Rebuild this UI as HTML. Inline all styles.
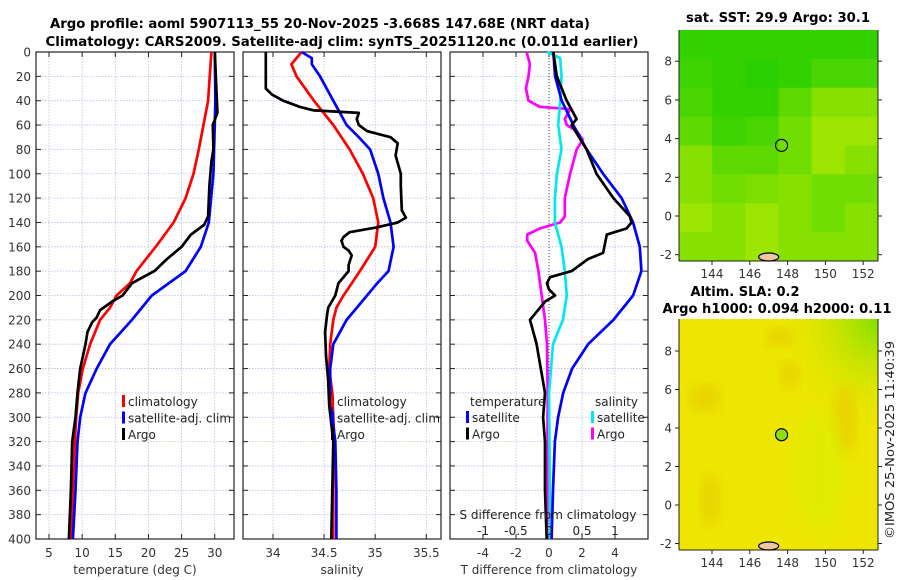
<!DOCTYPE html>
<html><head><meta charset="utf-8"><style>
html,body{margin:0;padding:0;background:#fff;}
svg{display:block;font-family:"DejaVu Sans","Liberation Sans",sans-serif;}
</style></head><body>
<svg id="c" width="900" height="580" viewBox="0 0 900 580" xmlns="http://www.w3.org/2000/svg">
<rect width="900" height="580" fill="#fff"/>
<text x="320" y="28" text-anchor="middle" font-size="13" font-weight="bold" fill="#000" textLength="540" lengthAdjust="spacingAndGlyphs">Argo profile: aoml 5907113_55 20-Nov-2025 -3.668S 147.68E (NRT data)</text>
<text x="342" y="46" text-anchor="middle" font-size="13" font-weight="bold" fill="#000" textLength="593" lengthAdjust="spacingAndGlyphs">Climatology: CARS2009. Satellite-adj clim: synTS_20251120.nc (0.011d earlier)</text>
<text x="778" y="22" text-anchor="middle" font-size="13" font-weight="bold" textLength="184" lengthAdjust="spacingAndGlyphs">sat. SST: 29.9 Argo: 30.1</text>
<text x="745" y="296" text-anchor="middle" font-size="13" font-weight="bold" textLength="109" lengthAdjust="spacingAndGlyphs">Altim. SLA: 0.2</text>
<text x="777" y="313" text-anchor="middle" font-size="13" font-weight="bold" textLength="229" lengthAdjust="spacingAndGlyphs">Argo h1000: 0.094 h2000: 0.11</text>
<text transform="translate(894,440) rotate(-90)" text-anchor="middle" font-size="12" fill="#222" textLength="198" lengthAdjust="spacingAndGlyphs">©IMOS 25-Nov-2025 11:40:39</text>
<g id="g"></g>
</svg>
<script>
// ---- data ----
const depthTicks=[0,20,40,60,80,100,120,140,160,180,200,220,240,260,280,300,320,340,360,380,400];
const tempTicks=[5,10,15,20,25,30];
const salTicks=[34,34.5,35,35.5];
const salTickLabels=["34","34.5","35","35.5"];
const tDiffTicks=[-4,-2,0,2,4];
const sDiffTicks=[-1,-0.5,0,0.5,1];
const sDiffTickLabels=["-1","-0.5","0","0.5","1"];
const climDepth=[0,40,80,100,120,140,160,180,190,200,210,220,240,260,280,300,320,360,400];
const climTemp=[29.5,29.0,27.6,26.8,25.6,23.8,21.1,18.2,17.2,15.2,14.2,12.7,11.2,10.1,9.4,9.1,8.9,8.6,8.3];
const satDepth=[0,40,100,140,160,180,200,220,240,260,280,300,320,360,400];
const satTemp=[30,30.1,29.8,29.1,27.9,25.6,20.5,17.5,14.2,12.2,10.5,9.7,9.3,9.0,8.6];
const argoTDepth=[0,50,60,80,90,110,135,142,150,160,170,180,186,190,200,205,212,218,222,230,240,260,280,300,320,360,400];
const argoTemp=[30,30.4,29.7,29.8,29.5,29.2,29,28.4,26.4,25,22.8,20.9,18.8,17.5,16.1,14.5,12.7,12.2,11.5,10.8,10.5,9.7,9.3,9.0,8.5,8.3,8.0];
const climSDepth=[0,10,20,40,60,80,100,120,140,160,180,200,210,220,240,260,280,300,320,360,400];
const climSal=[34.28,34.18,34.23,34.40,34.59,34.75,34.88,34.98,35.03,35.0,34.85,34.69,34.62,34.59,34.56,34.55,34.58,34.59,34.6,34.59,34.59];
const satSDepth=[0,5,10,20,40,60,70,80,100,120,140,160,180,190,200,210,220,240,260,280,300,320,360,400];
const satSal=[34.28,34.38,34.38,34.46,34.59,34.72,34.84,34.95,35.03,35.08,35.15,35.18,35.13,35.02,34.92,34.82,34.72,34.59,34.56,34.56,34.58,34.61,34.62,34.62];
const argoSDepth=[0,30,35,40,45,48,50,55,60,65,70,75,85,100,110,130,136,140,144,148,152,155,160,163,167,175,180,190,200,210,215,230,250,270,290,320,360,400];
const argoSal=[33.93,33.93,33.99,34.1,34.26,34.4,34.84,34.82,34.84,34.92,35.15,35.22,35.2,35.25,35.25,35.26,35.3,35.22,35.02,34.75,34.69,34.67,34.69,34.74,34.77,34.74,34.74,34.64,34.61,34.54,34.53,34.51,34.52,34.54,34.55,34.59,34.58,34.57];
const satTdDepth=[0,20,40,60,80,100,120,140,160,180,200,220,240,260,280,300,320,360,400];
const satTdiff=[0.26,0.37,0.77,1.47,2.28,3.28,4.4,5.1,5.5,5.6,5.1,3.9,2.37,1.4,0.86,0.55,0.36,0.24,0.16];
const argoTdDepth=[0,20,40,50,55,60,80,100,120,135,140,145,150,165,170,180,185,190,195,200,205,215,220,235,240,260,280,300,320,360,400];
const argoTdiff=[0.26,0.47,1.07,1.47,1.67,1.37,2.28,2.88,3.9,4.9,5.0,4.7,3.5,3.28,2.37,1.37,0.06,-0.13,0,0.37,-0.24,-0.85,-1.15,-0.85,-0.75,-0.5,-0.24,-0.36,-0.24,-0.24,-0.14];
const argoSdDepth=[0,10,20,30,40,45,47,55,60,65,72,80,100,120,135,140,145,150,155,165,180,200,220,240,280,400];
const argoSdiff=[-0.34,-0.29,-0.31,-0.35,-0.31,-0.14,0.32,0.24,0.27,0.42,0.51,0.42,0.32,0.24,0.24,0.17,-0.14,-0.33,-0.33,-0.21,-0.16,-0.11,-0.06,-0.03,-0.02,-0.03];
const satSdDepth=[0,5,20,40,60,80,100,120,140,160,180,200,220,240,280,400];
const satSdiff=[-0.03,0.17,0.19,0.17,0.14,0.19,0.12,0.09,0.09,0.19,0.24,0.27,0.21,0.06,0.0,0.02];
const lonTicks=[144,146,148,150,152];
const latTicks=[-2,0,2,4,6,8];
const sstGrid=[[0.1,0.1,0.1,0.1,0.1,0.1],[0.15,0.1,0.05,0.1,0.2,0.2],[0.2,0.1,0.1,0.3,0.5,0.5],[0.3,0.15,0.2,0.4,0.6,0.6],[0.5,0.3,0.3,0.4,0.6,0.5],[0.5,0.4,0.45,0.5,0.4,0.4],[0.6,0.5,0.6,0.5,0.4,0.5],[0.5,0.5,0.6,0.5,0.5,0.5]];
const argoLon=147.68, argoLat=3.65;

// ---- scales ----
const Y=d=>52+d*1.2175;
const XT=t=>49+(t-5)*6.63;
const XS=s=>273+(s-34)*102.2;
const XTD=v=>549+v*16.5;
const XSD=v=>549+v*66;
const NS="http://www.w3.org/2000/svg";
const G=document.getElementById('g');
function el(tag,attrs,parent,txt){const e=document.createElementNS(NS,tag);for(const k in attrs)e.setAttribute(k,attrs[k]);if(txt!==undefined)e.textContent=txt;(parent||G).appendChild(e);return e;}

function panel(name,x0,x1,xt,xs,xlabels,xtitle){
  const g=el('g',{});
  
  
  xt.forEach((v,i)=>{const x=xs(v);
    const l=el('line',{x1:x,x2:x,y1:52,y2:539,stroke:'#b8bedf','stroke-width':0.8,'stroke-dasharray':'1.5,1.5'},g);
    
    
    el('line',{x1:x,x2:x,y1:52,y2:57,stroke:'#222'},g);el('line',{x1:x,x2:x,y1:539,y2:534,stroke:'#222'},g);
    if(xlabels){const t=el('text',{x:x,y:557,'text-anchor':'middle','font-size':12,fill:'#333'},g,xlabels[i]);
    
    }
  });
  depthTicks.forEach(d=>{const y=Y(d);
    if(d>0&&d<400){const l=el('line',{x1:x0,x2:x1,y1:y,y2:y,stroke:'#b8bedf','stroke-width':0.8,'stroke-dasharray':'1.5,1.5'},g);
    
    }
    el('line',{x1:x0,x2:x0+5,y1:y,y2:y,stroke:'#222'},g);el('line',{x1:x1,x2:x1-5,y1:y,y2:y,stroke:'#222'},g);
  });
  const b=el('rect',{x:x0,y:52,width:x1-x0,height:487,fill:'none',stroke:'#222','stroke-width':1.2},g);
  
  
  const tt=el('text',{x:(x0+x1)/2,y:574,'text-anchor':'middle','font-size':12,fill:'#333'},g,xtitle);
  
  
  return g;
}
function series(name,ds,vs,xs,color,g){
  const pts=ds.map((d,i)=>xs(vs[i]).toFixed(1)+','+Y(d).toFixed(1)).join(' ');
  const p=el('polyline',{points:pts,fill:'none',stroke:color,'stroke-width':2.7,'stroke-linejoin':'round'},g);
  
  
}
function legend(items,x,y,g){
  items.forEach((it,i)=>{const yy=y+i*16.5;
    el('rect',{x:x,y:yy-11,width:3,height:12,fill:it[1]},g);
    const t=el('text',{x:x+6,y:yy,'font-size':12,fill:'#222'},g,it[0]);
    
    
  });
}
// panel 1
const p1=panel('temperature-panel',36,234,tempTicks,XT,tempTicks.map(String),'temperature (deg C)');
depthTicks.forEach(d=>{const t=el('text',{x:31,y:Y(d)+4.5,'text-anchor':'end','font-size':12,fill:'#333'},G,String(d));

});
series('climatology-temp-line',climDepth,climTemp,XT,'#ff0000',p1);
series('satellite-temp-line',satDepth,satTemp,XT,'#0000ff',p1);
series('argo-temp-line',argoTDepth,argoTemp,XT,'#000',p1);
legend([['climatology','#ff0000'],['satellite-adj. clim','#0000ff'],['Argo','#000']],122,406,p1);
// panel 2
const p2=panel('salinity-panel',243,441,salTicks,XS,salTickLabels,'salinity');
series('climatology-sal-line',climSDepth,climSal,XS,'#ff0000',p2);
series('satellite-sal-line',satSDepth,satSal,XS,'#0000ff',p2);
series('argo-sal-line',argoSDepth,argoSal,XS,'#000',p2);
legend([['climatology','#ff0000'],['satellite-adj. clim','#0000ff'],['Argo','#000']],331,406,p2);
// panel 3
const p3=panel('difference-panel',450,648,tDiffTicks,XTD,tDiffTicks.map(String),'T difference from climatology');
el('line',{x1:549,x2:549,y1:52,y2:539,stroke:'#444','stroke-width':1,'stroke-dasharray':'1,2'},p3);
series('argo-sal-diff-line',argoSdDepth,argoSdiff,XSD,'#ff00ff',p3);
series('satellite-sal-diff-line',satSdDepth,satSdiff,XSD,'#00e8f0',p3);
series('satellite-temp-diff-line',satTdDepth,satTdiff,XTD,'#0000ff',p3);
series('argo-temp-diff-line',argoTdDepth,argoTdiff,XTD,'#000',p3);
el('text',{x:470,y:406,'font-size':12,fill:'#222'},p3,'temperature');
el('text',{x:595,y:406,'font-size':12,fill:'#222'},p3,'salinity');
legend([['satellite','#0000ff'],['Argo','#000']],466,422,p3);
legend([['satellite','#00e8f0'],['Argo','#ff00ff']],591,422,p3);
el('text',{x:548,y:519,'text-anchor':'middle','font-size':12,fill:'#222'},p3,'S difference from climatology');
sDiffTicks.forEach((v,i)=>{const t=el('text',{x:XSD(v),y:535,'text-anchor':'middle','font-size':12,fill:'#222'},p3,sDiffTickLabels[i]);

});

// ---- maps ----
const LX=lon=>712+(lon-144)*18.9;
function mapAxes(g,y0,y1,latY){
  lonTicks.forEach(l=>{const x=LX(l);el('line',{x1:x,x2:x,y1:y1,y2:y1+4,stroke:'#222'},g);
    const t=el('text',{x:x,y:y1+17,'text-anchor':'middle','font-size':12,fill:'#333'},g,String(l));
    
    });
  latTicks.forEach(l=>{const y=latY(l);el('line',{x1:679,x2:675,y1:y,y2:y,stroke:'#222'},g);el('line',{x1:878,x2:882,y1:y,y2:y,stroke:'#222'},g);
    const t=el('text',{x:672,y:y+4.5,'text-anchor':'end','font-size':12,fill:'#333'},g,String(l));
    
    });
  el('line',{x1:679,x2:679,y1:y0,y2:y1,stroke:'#222'},g);el('line',{x1:679,x2:878,y1:y1,y2:y1,stroke:'#222'},g);
  el('line',{x1:878,x2:878,y1:y0,y2:y1,stroke:'#222'},g);
}
const m1=el('g',{});


const LY1=lat=>216-lat*19.35;
const rows=sstGrid.length, cols=sstGrid[0].length, cw=199/cols, rh=231/rows;
sstGrid.forEach((r,i)=>r.forEach((v,j)=>{
  const R=Math.round(30+v*210), Gc=Math.round(205+v*40);
  const c=el('rect',{x:679+j*cw,y:30+i*rh,width:cw+0.5,height:rh+0.5,fill:`rgb(${R},${Gc},0)`},m1);
  
  
}));
mapAxes(m1,30,261,LY1);
el('ellipse',{cx:LX(argoLon),cy:LY1(argoLat),rx:6,ry:6,fill:'none',stroke:'#000','stroke-width':1.2},m1);
el('ellipse',{cx:LX(147),cy:257,rx:10,ry:4,fill:'#f0c8a0',stroke:'#000','stroke-width':1.2},m1);

const m2=el('g',{});


const LY2=lat=>505-lat*19.25;
el('rect',{x:679,y:319,width:199,height:231,fill:'#ece600'},m2);
el('defs',{},m2).innerHTML='<radialGradient id="gr" cx="1" cy="0" r="0.5"><stop offset="0" stop-color="#80e000"/><stop offset="1" stop-color="#ece600" stop-opacity="0"/></radialGradient><filter id="bl"><feGaussianBlur stdDeviation="6"/></filter>';
el('rect',{x:679,y:319,width:199,height:231,fill:'url(#gr)'},m2);
[[705,398,16,14],[790,375,10,14],[845,420,12,35],[710,500,10,25],[780,337,14,10]].forEach(e=>el('ellipse',{cx:e[0],cy:e[1],rx:e[2],ry:e[3],fill:'#e8c800',opacity:0.6,filter:'url(#bl)'},m2));
el('ellipse',{cx:820,cy:470,rx:25,ry:60,fill:'#d8f000',opacity:0.5,filter:'url(#bl)'},m2);
mapAxes(m2,319,550,LY2);
el('ellipse',{cx:LX(argoLon),cy:LY2(argoLat),rx:6,ry:6,fill:'#90e010',stroke:'#000','stroke-width':1.2},m2);
el('ellipse',{cx:LX(147),cy:546,rx:10,ry:4,fill:'#f0c8a0',stroke:'#000','stroke-width':1.2},m2);
</script>
</body></html>
